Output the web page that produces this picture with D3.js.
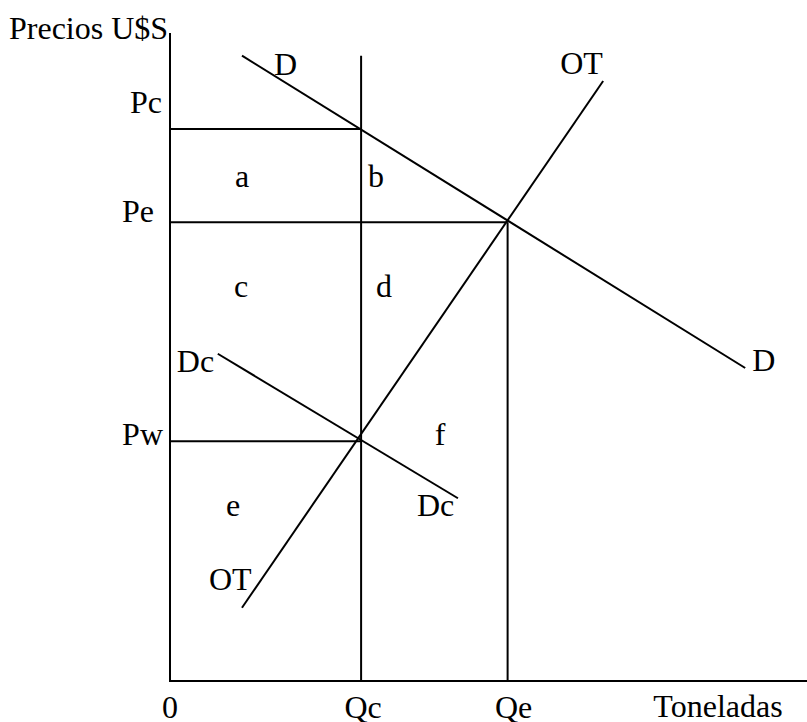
<!DOCTYPE html>
<html>
<head>
<meta charset="utf-8">
<script src="https://cdn.jsdelivr.net/npm/d3@7"></script>
<style>
  body { margin: 0; background: #fff; }
  svg text { font-family: "Liberation Serif", "Times New Roman", serif; font-size: 32px; fill: #000; }
</style>
</head>
<body>
<svg id="chart" width="807" height="722"></svg>
<script>
// quantities (toneladas) and prices, in chart units 0..100
var quantities = {Qc: 30, Qe: 53};
var prices = {Pc: 85.2, Pe: 70.8, Pw: 37};

// curves as [x, y] end points
var demand = [[11.3, 96.5], [90.3, 48.3]];     // D
var supply = [[11.3, 11.3], [68, 92.6]];       // OT
var demandC = [[7.5, 50.5], [45.2, 28.2]];     // Dc
var qcTop = 96.5;

var areaLabels = ["a", "b", "c", "d", "e", "f"];

var svg = d3.select("#chart");
var x = d3.scaleLinear().domain([0, 100]).range([170, 807]);
var y = d3.scaleLinear().domain([0, 100]).range([681, 33]);

var line = d3.line().x(function(d) { return x(d[0]); }).y(function(d) { return y(d[1]); });

function seg(pts) {
	svg.append("path")
		.attr("d", line(pts))
		.attr("fill", "none")
		.attr("stroke", "#000")
		.attr("stroke-width", 2);
}

// axes
seg([[0, 100], [0, 0], [100, 0]]);

// price guides
seg([[0, prices.Pc], [quantities.Qc, prices.Pc]]);
seg([[0, prices.Pe], [quantities.Qe, prices.Pe]]);
seg([[0, prices.Pw], [quantities.Qc, prices.Pw]]);

// quantity guides
seg([[quantities.Qc, 0], [quantities.Qc, qcTop]]);
seg([[quantities.Qe, 0], [quantities.Qe, prices.Pe]]);

// curves
seg(demand);
seg(supply);
seg(demandC);

function label(txt, px, py, anchor) {
	svg.append("text")
		.attr("x", px)
		.attr("y", py)
		.attr("text-anchor", anchor || "start")
		.text(txt);
}

label("Precios U$S", 9, 39);

// price labels
label("Pc", x(0) - 8, y(prices.Pc) - 16, "end");
label("Pe", x(0) - 16, y(prices.Pe), "end");
label("Pw", x(0) - 7, y(prices.Pw) + 4, "end");

// quantity labels
label("0", x(0), 718, "middle");
label("Qc", x(quantities.Qc) + 2, 718, "middle");
label("Qe", x(quantities.Qe) + 6, 718, "middle");
label("Toneladas", 718, 717, "middle");

// curve labels
label("D", x(demand[0][0]) + 32, y(demand[0][1]) + 19);
label("D", x(demand[1][0]) + 7, y(demand[1][1]) + 3);
label("OT", x(supply[1][0]) - 43, y(supply[1][1]) - 7);
label("OT", x(supply[0][0]) - 33, y(supply[0][1]) - 18);
label("Dc", x(demandC[0][0]) - 41, y(demandC[0][1]) + 18);
label("Dc", x(demandC[1][0]) - 41, y(demandC[1][1]) + 18);

// area labels
var areaPos = [[242, 187], [376, 187], [241, 297], [384, 297], [233, 516], [440, 445]];
areaLabels.forEach(function(t, i) {
	label(t, areaPos[i][0], areaPos[i][1], "middle");
});
</script>
</body>
</html>
